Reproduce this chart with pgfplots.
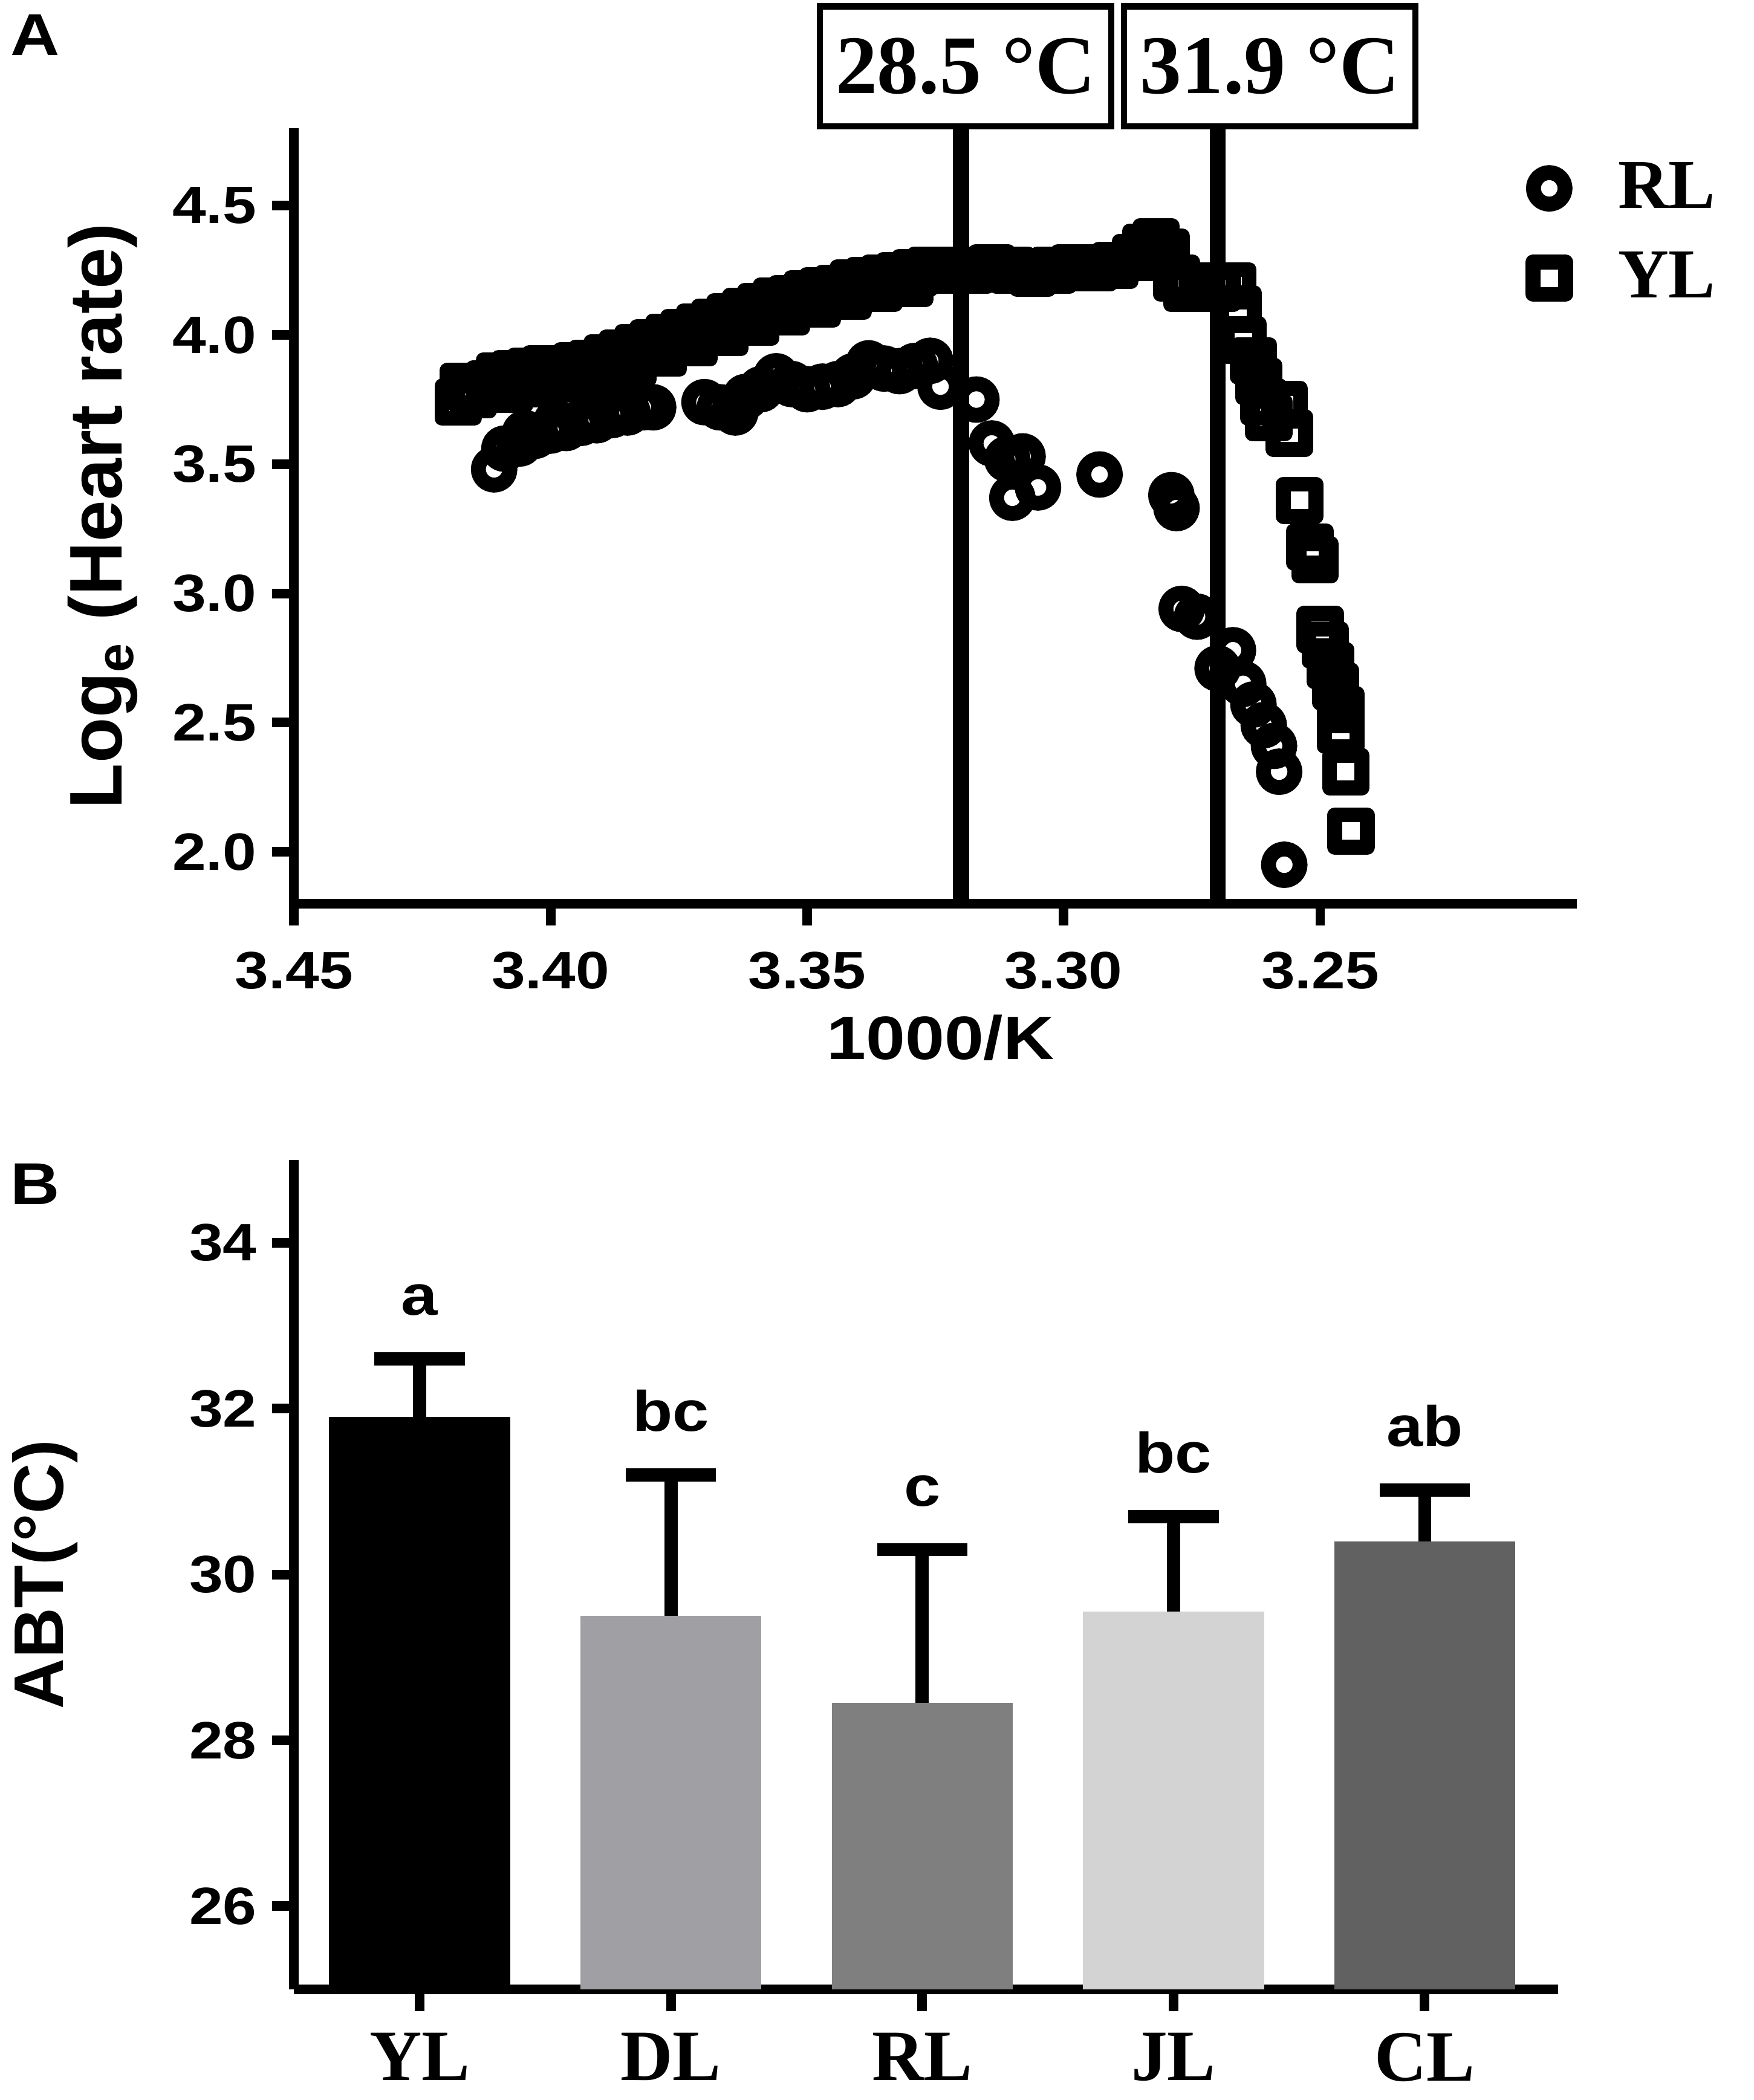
\documentclass[border=0pt]{standalone}
\usepackage{fontspec}
\setmainfont{Liberation Serif}
\newfontfamily\sansW[FakeStretch=1.15]{Liberation Sans}
\newfontfamily\sansN{Liberation Sans}
\usepackage{pgfplots}
\pgfplotsset{compat=1.18}

\pgfplotstableread{
x y
3.411 3.48
3.409 3.56
3.406 3.58
3.405 3.62
3.403 3.61
3.400 3.63
3.399 3.66
3.397 3.64
3.394 3.66
3.392 3.69
3.391 3.67
3.388 3.69
3.386 3.72
3.385 3.70
3.382 3.72
3.380 3.72
3.370 3.74
3.367 3.72
3.364 3.70
3.362 3.76
3.359 3.79
3.356 3.84
3.353 3.81
3.350 3.79
3.347 3.80
3.344 3.81
3.341 3.84
3.338 3.89
3.335 3.87
3.332 3.86
3.329 3.88
3.326 3.90
3.324 3.80
3.317 3.75
3.314 3.58
3.311 3.52
3.308 3.53
3.310 3.37
3.305 3.41
3.293 3.46
3.279 3.38
3.278 3.33
3.277 2.94
3.274 2.91
3.270 2.71
3.267 2.78
3.265 2.65
3.263 2.57
3.261 2.49
3.259 2.41
3.258 2.31
3.257 1.95
}\RLdata

\pgfplotstableread{
x y
3.418 3.74
3.417 3.80
3.415 3.77
3.412 3.81
3.410 3.84
3.408 3.79
3.407 3.85
3.404 3.86
3.402 3.81
3.401 3.87
3.398 3.87
3.396 3.83
3.395 3.88
3.392 3.89
3.390 3.85
3.389 3.91
3.386 3.93
3.384 3.89
3.383 3.95
3.380 3.97
3.378 3.93
3.377 3.99
3.374 4.01
3.372 3.97
3.371 4.03
3.368 4.05
3.366 4.01
3.365 4.07
3.362 4.09
3.360 4.05
3.359 4.11
3.356 4.13
3.354 4.09
3.353 4.14
3.350 4.16
3.348 4.12
3.347 4.17
3.344 4.18
3.342 4.15
3.341 4.20
3.338 4.21
3.336 4.18
3.335 4.22
3.332 4.23
3.330 4.20
3.329 4.24
3.326 4.25
3.322 4.25
3.318 4.25
3.314 4.26
3.310 4.25
3.306 4.24
3.302 4.25
3.298 4.26
3.294 4.26
3.290 4.27
3.286 4.30
3.284 4.34
3.282 4.36
3.280 4.32
3.278 4.22
3.276 4.18
3.273 4.19
3.270 4.18
3.267 4.19
3.266 4.10
3.265 3.98
3.263 3.90
3.262 3.82
3.261 3.74
3.260 3.68
3.257 3.73
3.256 3.62
3.254 3.36
3.252 3.18
3.251 3.13
3.250 2.86
3.249 2.80
3.248 2.72
3.247 2.64
3.246 2.55
3.246 2.47
3.245 2.31
3.244 2.08
}\YLdata

\begin{document}
\begin{tikzpicture}
\useasboundingbox (-67.08pt,-273.0pt) rectangle (332.92pt,206.15pt);

\node[font=\sansW\bfseries\fontsize{13.5}{15}\selectfont] at (-59.1pt,198.2pt) {A};
\node[font=\sansW\bfseries\fontsize{13.5}{15}\selectfont] at (-59.1pt,-64.0pt) {B};

% ---------------- Panel A ----------------
\begin{axis}[
  at={(0pt,0pt)}, anchor=south west,
  scale only axis, width=292.6pt, height=176.9pt,
  x dir=reverse, xmin=3.20, xmax=3.45, ymin=1.8, ymax=4.8,
  axis x line*=bottom, axis y line*=left,
  axis line style={line width=2.2pt, -},
  tick style={line width=2.2pt, black},
  tick align=outside, major tick length=5pt,
  xtick={3.25,3.30,3.35,3.40,3.45},
  ytick={2.0,2.5,3.0,3.5,4.0,4.5},
  xticklabel style={yshift=-2.5pt, /pgf/number format/.cd, fixed, fixed zerofill, precision=2},
  yticklabel style={/pgf/number format/.cd, fixed, fixed zerofill, precision=1},
  /pgf/number format/assume math mode=true,
  tick label style={font=\sansW\bfseries\fontsize{12}{14}\selectfont},
  xlabel={1000/K},
  xlabel style={font=\sansW\bfseries\fontsize{14}{16}\selectfont, at={(axis description cs:0.504,-0.173)}, anchor=center},
  ylabel={Log\textsubscript{e} (Heart rate)},
  ylabel style={font=\sansN\bfseries\fontsize{17}{20}\selectfont, at={(axis description cs:-0.149,0.5)}, anchor=center},
  clip=false,
  legend style={at={(0.955,0.98)}, anchor=north west, draw=none, fill=none,
    font=\bfseries\fontsize{16}{19}\selectfont, row sep=4.5pt, column sep=10pt},
  legend cell align=left,
]
\addplot[only marks, mark=o, mark size=3.6pt, mark options={draw=black, fill=none, line width=3.4pt}]
  table[x=x, y=y] {\RLdata};
\addlegendentry{RL}
\addplot[only marks, mark=square, mark size=3.7pt, mark options={draw=black, fill=none, line width=3.4pt, line join=round}]
  table[x=x, y=y] {\YLdata};
\addlegendentry{YL}

\draw[line width=3.6pt] (axis cs:3.320,1.8) -- (axis cs:3.320,4.795);
\draw[line width=3.6pt] (axis cs:3.270,1.8) -- (axis cs:3.270,4.795);
\node[draw, line width=1.4pt, fill=white, minimum width=66.5pt, minimum height=27.4pt, inner sep=0pt,
  anchor=south, font=\bfseries\fontsize{19}{22}\selectfont] at (axis cs:3.3191,4.795) {28.5 °C};
\node[draw, line width=1.4pt, fill=white, minimum width=66.5pt, minimum height=27.4pt, inner sep=0pt,
  anchor=south, font=\bfseries\fontsize{19}{22}\selectfont] at (axis cs:3.2598,4.795) {31.9 °C};
\end{axis}

% ---------------- Panel B ----------------
\definecolor{cDL}{RGB}{160,160,164}
\definecolor{cRL}{RGB}{127,127,127}
\definecolor{cJL}{RGB}{211,211,211}
\definecolor{cCL}{RGB}{97,97,97}
\begin{axis}[
  at={(0pt,-247.7pt)}, anchor=south west,
  scale only axis, width=288.3pt, height=189.2pt,
  xmin=-0.5, xmax=4.53, ymin=25, ymax=35,
  axis x line*=bottom, axis y line*=left,
  axis line style={line width=2.2pt, -},
  tick style={line width=2.2pt, black},
  tick align=outside, major tick length=5pt,
  xtick={0,1,2,3,4}, xticklabels={YL,DL,RL,JL,CL},
  ytick={26,28,30,32,34},
  /pgf/number format/assume math mode=true,
  yticklabel style={font=\sansW\bfseries\fontsize{12}{14}\selectfont},
  xticklabel style={font=\bfseries\fontsize{16.5}{19}\selectfont, yshift=-1.5pt},
  ylabel={ABT(°C)},
  ylabel style={font=\sansN\bfseries\fontsize{16}{19}\selectfont, at={(axis description cs:-0.197,0.50)}, anchor=center},
  clip=true,
]
\pgfplotsset{barstyle/.style={ybar, bar width=41.3pt, bar shift=0pt, draw=none,
  error bars/.cd, y dir=plus, y explicit,
  error bar style={line width=3pt, black},
  error mark options={rotate=90, mark size=10.3pt, line width=3pt, black}}}
\addplot[fill=black, barstyle] coordinates {(0,31.9) +- (0,0.7)};
\addplot[fill=cDL, barstyle] coordinates {(1,29.5) +- (0,1.7)};
\addplot[fill=cRL, barstyle] coordinates {(2,28.45) +- (0,1.85)};
\addplot[fill=cJL, barstyle] coordinates {(3,29.55) +- (0,1.15)};
\addplot[fill=cCL, barstyle] coordinates {(4,30.4) +- (0,0.62)};

\node[font=\sansW\bfseries\fontsize{13}{15}\selectfont, anchor=base, yshift=10pt] at (axis cs:0,32.6) {a};
\node[font=\sansW\bfseries\fontsize{13}{15}\selectfont, anchor=base, yshift=10pt] at (axis cs:1,31.2) {bc};
\node[font=\sansW\bfseries\fontsize{13}{15}\selectfont, anchor=base, yshift=10pt] at (axis cs:2,30.3) {c};
\node[font=\sansW\bfseries\fontsize{13}{15}\selectfont, anchor=base, yshift=10pt] at (axis cs:3,30.7) {bc};
\node[font=\sansW\bfseries\fontsize{13}{15}\selectfont, anchor=base, yshift=10pt] at (axis cs:4,31.02) {ab};
\end{axis}
\end{tikzpicture}
\end{document}
